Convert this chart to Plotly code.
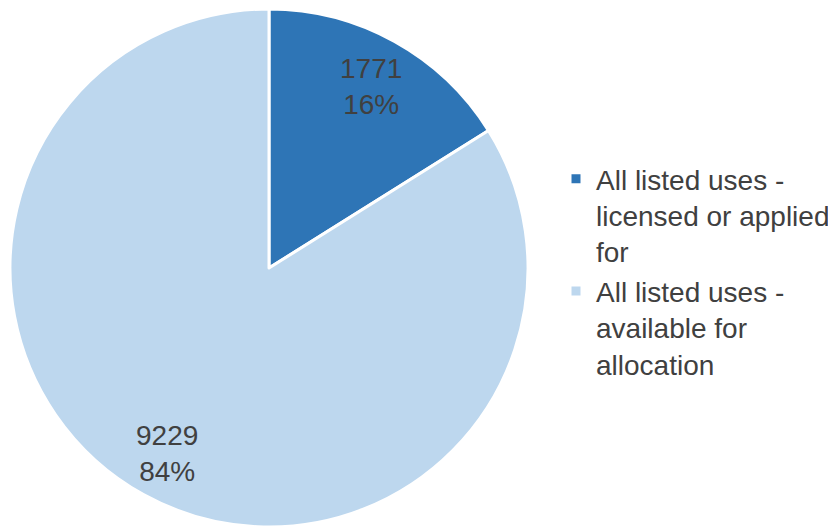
import math
import plotly.graph_objects as go

labels = ["All listed uses -<br>licensed or applied<br>for", "All listed uses -<br>available for<br>allocation"]
values = [1771, 9229]
colors = ["#2E75B6", "#BDD7EE"]

W, H = 836, 526
# pie geometry in figure pixels
cx, cy, R = 261, 260, 259
FONT = "Liberation Sans, Arial, sans-serif"
TXT = "#404040"

fig = go.Figure(go.Pie(
    labels=labels,
    values=values,
    marker=dict(colors=colors, line=dict(color="white", width=3)),
    sort=False,
    direction="clockwise",
    rotation=0,
    textinfo="none",
    domain=dict(x=[(cx - R) / W, (cx + R) / W], y=[(H - cy - R) / H, (H - cy + R) / H]),
    hoverinfo="label+value+percent",
))

# data labels placed along each slice's mid-angle
total = sum(values)
cum = 0
for v in values:
    mid = (cum + v / 2) / total * 2 * math.pi
    cum += v
    r = 0.81 * R
    px = cx + r * math.sin(mid)
    py = cy - r * math.cos(mid) + 2
    fig.add_annotation(
        x=px / W, y=(H - py) / H, xref="paper", yref="paper",
        text=f"{v}<br>{round(v / total * 100)}%",
        showarrow=False, xanchor="center", yanchor="middle",
        font=dict(family=FONT, size=28, color=TXT),
    )

fig.update_layout(
    width=W, height=H,
    margin=dict(l=0, r=0, t=0, b=0),
    paper_bgcolor="white",
    plot_bgcolor="white",
    font=dict(family=FONT, size=28, color=TXT),
    legend=dict(x=548 / W, y=(H - 146) / H, xanchor="left", yanchor="top",
                valign="top", font=dict(family=FONT, size=28, color=TXT)),
)

fig.write_html("out.html")
